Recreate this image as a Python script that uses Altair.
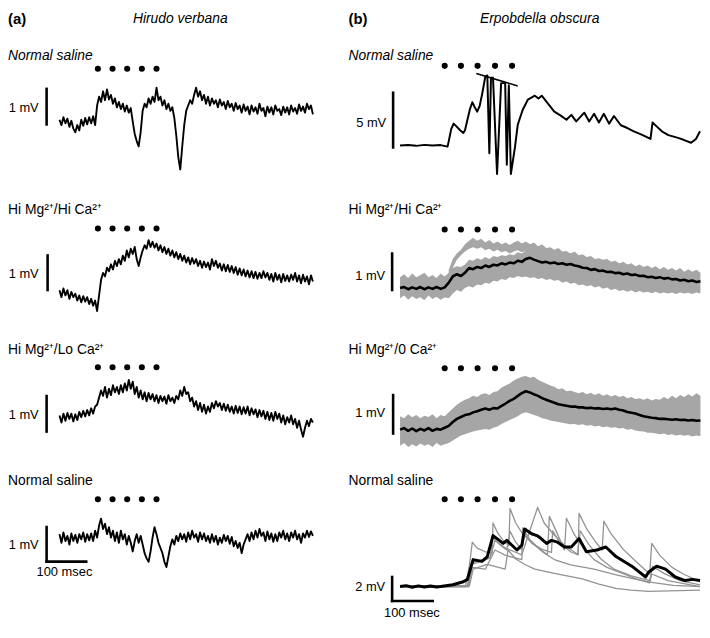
import altair as alt
import pandas as pd

# ---------------- data ----------------
# (a) Hirudo verbana, single sweeps sampled every 5 ms, mV relative to baseline
LEFT_DT = 5
hv_normal = [
    0.05, -0.1, 0.12, -0.05, 0.08, -0.15, 0.02, -0.2, -0.3, -0.1,
    -0.25, 0.05, -0.12, 0.1, -0.08, 0.12, -0.05, 0.15, -0.1, 0.45,
    0.7, 0.55, 0.85, 0.6, 0.9, 0.62, 0.75, 0.5, 0.65, 0.4,
    0.55, 0.35, 0.5, 0.28, 0.45, 0.25, 0.38, 0.0, -0.35, -0.55,
    -0.7, -0.3, 0.3, 0.5, 0.4, 0.65, 0.5, 0.7, 0.55, 0.95,
    0.6, 0.7, 0.45, 0.6, 0.35, 0.5, 0.3, 0.4, 0.1, -0.4,
    -1.0, -1.35, -0.7, -0.1, 0.3, 0.45, 0.6, 0.5, 0.75, 0.95,
    0.7, 0.85, 0.6, 0.75, 0.5, 0.7, 0.45, 0.65, 0.5, 0.6,
    0.4, 0.62, 0.45, 0.55, 0.35, 0.58, 0.4, 0.5, 0.3, 0.52,
    0.35, 0.45, 0.25, 0.48, 0.3, 0.42, 0.2, 0.45, 0.28, 0.4,
    0.22, 0.5, 0.3, 0.38, 0.15, 0.42, 0.25, 0.4, 0.2, 0.45,
    0.3, 0.35, 0.18, 0.42, 0.25, 0.4, 0.2, 0.45, 0.28, 0.38,
    0.22, 0.48, 0.3, 0.42, 0.25, 0.5, 0.35, 0.45, 0.2,
]
hv_himg_hica = [
    0.05, -0.15, 0.1, -0.1, 0.05, -0.2, 0.0, -0.15, -0.05, -0.25,
    -0.1, -0.3, -0.12, -0.28, -0.15, -0.35, -0.2, -0.4, -0.25, -0.55,
    -0.1, 0.35, 0.55, 0.45, 0.7, 0.6, 0.8, 0.65, 0.9, 0.75,
    0.95, 0.8, 1.05, 0.9, 1.2, 1.0, 1.25, 1.1, 1.3, 0.95,
    0.75, 1.0, 1.2, 1.35, 1.25, 1.5, 1.3, 1.45, 1.28, 1.4,
    1.2, 1.35, 1.15, 1.3, 1.1, 1.25, 1.05, 1.2, 1.0, 1.15,
    0.95, 1.1, 0.9, 1.05, 0.85, 1.0, 0.8, 0.98, 0.82, 0.95,
    0.75, 0.9, 0.7, 0.88, 0.72, 0.85, 0.65, 0.95, 0.75, 0.9,
    0.7, 0.82, 0.62, 0.8, 0.6, 0.78, 0.58, 0.75, 0.55, 0.72,
    0.5, 0.68, 0.48, 0.65, 0.45, 0.62, 0.42, 0.6, 0.4, 0.58,
    0.38, 0.55, 0.4, 0.6, 0.42, 0.55, 0.35, 0.52, 0.3, 0.55,
    0.35, 0.5, 0.28, 0.52, 0.32, 0.48, 0.3, 0.5, 0.35, 0.55,
    0.3, 0.48, 0.25, 0.5, 0.3, 0.45, 0.22, 0.48, 0.3,
]
hv_himg_loca = [
    0.05, -0.15, 0.1, -0.1, 0.12, -0.05, 0.1, -0.12, 0.08, -0.08,
    0.15, 0.0, 0.18, 0.02, 0.2, 0.05, 0.25, 0.1, 0.3, 0.35,
    0.55, 0.75, 0.6, 0.85, 0.55, 0.8, 0.62, 0.9, 0.7, 0.85,
    0.65, 0.9, 0.7, 0.95, 0.75, 1.05, 0.8, 1.0, 0.65, 0.85,
    0.55, 0.75, 0.5, 0.7, 0.45, 0.68, 0.5, 0.65, 0.45, 0.62,
    0.4, 0.6, 0.45, 0.58, 0.38, 0.62, 0.45, 0.55, 0.4, 0.6,
    0.5, 0.75, 0.6, 0.85, 0.65, 0.7, 0.45, 0.55, 0.3, 0.45,
    0.2, 0.4, 0.15, 0.35, 0.1, 0.3, 0.15, 0.4, 0.25, 0.45,
    0.3, 0.4, 0.2, 0.38, 0.18, 0.35, 0.15, 0.3, 0.1, 0.32,
    0.12, 0.3, 0.08, 0.28, 0.1, 0.3, 0.05, 0.25, 0.08, 0.22,
    0.0, 0.2, 0.02, 0.18, -0.05, 0.15, -0.08, 0.12, -0.1, 0.15,
    -0.05, 0.1, -0.15, 0.05, -0.2, 0.0, -0.15, 0.05, -0.2, -0.05,
    -0.3, -0.1, -0.35, -0.55, -0.3, -0.1, -0.25, -0.05, -0.15,
]
hv_normal_wash = [
    0.1, -0.15, 0.15, -0.1, 0.05, -0.2, 0.12, -0.1, 0.08, -0.15,
    0.1, -0.05, 0.15, -0.12, 0.1, -0.08, 0.12, -0.1, 0.2, 0.0,
    0.35, 0.55, 0.25, 0.4, 0.1, 0.3, 0.0, 0.2, -0.1, 0.15,
    -0.15, 0.2, -0.05, 0.1, -0.2, 0.05, -0.15, -0.4, -0.1, 0.1,
    -0.15, 0.05, -0.2, -0.45, -0.6, -0.7, -0.4, 0.0, 0.3, 0.1,
    -0.15, -0.3, -0.45, -0.7, -0.85, -0.55, -0.25, -0.05, -0.2, 0.05,
    -0.1, 0.12, -0.05, 0.1, -0.12, 0.15, -0.05, 0.2, 0.0, 0.1,
    -0.12, 0.15, -0.05, 0.12, -0.1, 0.05, -0.15, 0.1, -0.12, 0.05,
    -0.2, 0.0, -0.15, 0.08, -0.1, 0.05, -0.18, 0.02, -0.25, -0.1,
    -0.3, -0.15, -0.45, -0.2, -0.05, 0.1, -0.1, 0.15, -0.05, 0.2,
    0.0, 0.25, 0.05, 0.15, -0.1, 0.18, -0.05, 0.12, -0.12, 0.1,
    -0.1, 0.15, 0.0, 0.2, -0.05, 0.12, -0.1, 0.15, 0.0, 0.2,
    -0.05, 0.1, -0.15, 0.12, 0.0, 0.2, 0.02, 0.18, 0.05,
]
hv_stim_ms = [97, 134, 171, 208, 245]

# (b) Erpobdella obscura
eo_normal_t = [0, 20, 40, 60, 80, 100, 117, 120, 126, 132, 139, 148, 156, 160, 166, 172, 178, 184, 190, 196, 202,
               210, 215, 220, 224, 229, 239, 249, 259, 263, 268, 273, 283, 290, 302, 315,
               332, 341, 349, 365, 380, 395, 410, 422, 434, 454, 466, 478, 490, 502, 515, 527, 544,
               560, 576, 595, 612, 617, 622, 632, 645, 661, 685, 700, 717, 729, 739]
eo_normal_v = [0.0, 0.05, -0.03, 0.06, 0.0, 0.04, -0.1, 0.4, 1.5, 2.0, 1.75, 1.4, 1.15, 1.4, 2.35, 3.3, 3.95, 3.5, 3.1, 3.6, 4.65,
               6.3, 6.4, -0.7, 6.2, 6.2, -2.6, 5.7, 5.7, -1.75, 5.5, -2.6, -0.2, 1.9, 3.25, 4.2,
               4.55, 4.3, 4.55, 3.8, 3.1, 2.75, 2.35, 2.8, 2.2, 3.0, 2.2, 2.9, 2.1, 2.9, 2.0, 2.7, 1.85,
               1.6, 1.3, 1.0, 0.7, 0.6, 2.1, 1.75, 1.3, 0.95, 0.7, 0.5, 0.25, 0.6, 1.3]
eo_spike_line_t = [188, 290]
eo_spike_line_v = [6.58, 5.44]

RIGHT_DT = 10
eo_hica_mean = [0.0, 0.03, -0.03, 0.02, -0.02, 0.03, -0.03, 0.02, -0.02, 0.03, -0.02, 0.02,
                0.15, 0.32, 0.38, 0.33, 0.42, 0.55, 0.52, 0.58, 0.55, 0.62,
                0.58, 0.64, 0.62, 0.68, 0.65, 0.7, 0.68, 0.75, 0.72, 0.8,
                0.83, 0.78, 0.74, 0.7, 0.72, 0.68, 0.7, 0.66, 0.68, 0.64,
                0.66, 0.62, 0.6, 0.56, 0.55, 0.5, 0.52, 0.47, 0.48, 0.44,
                0.45, 0.41, 0.42, 0.38, 0.4, 0.36, 0.37, 0.33, 0.34, 0.3,
                0.31, 0.28, 0.3, 0.26, 0.28, 0.24, 0.25, 0.21, 0.23, 0.19,
                0.21, 0.17, 0.19]
# bulk of the individual sweeps (lower / upper edge)
eo_hica_hi = [0.3, 0.38, 0.28, 0.4, 0.3, 0.35, 0.42, 0.3, 0.36, 0.28, 0.4, 0.32,
              0.42, 0.55, 0.6, 0.58, 0.65, 0.78, 0.75, 0.82, 0.78, 0.85,
              0.8, 0.88, 0.85, 0.9, 0.88, 0.93, 0.9, 0.98, 0.95, 1.04,
              1.08, 1.02, 0.98, 0.95, 0.97, 0.93, 0.96, 0.92, 0.95, 0.92,
              0.95, 0.92, 0.9, 0.92, 0.85, 0.88, 0.8, 0.82, 0.78, 0.8,
              0.72, 0.75, 0.68, 0.72, 0.65, 0.68, 0.6, 0.65, 0.58, 0.62,
              0.55, 0.6, 0.52, 0.58, 0.5, 0.55, 0.48, 0.55, 0.45, 0.52,
              0.45, 0.5, 0.42]
eo_hica_lo = [-0.28, -0.2, -0.32, -0.22, -0.3, -0.25, -0.33, -0.2, -0.3, -0.24, -0.32, -0.26,
              -0.28, -0.15, -0.05, -0.1, 0.0, 0.05, 0.02, 0.1, 0.08, 0.15,
              0.12, 0.2, 0.18, 0.25, 0.22, 0.3, 0.28, 0.33, 0.3, 0.32,
              0.28, 0.3, 0.25, 0.28, 0.22, 0.25, 0.2, 0.22, 0.15, 0.18,
              0.12, 0.15, 0.08, 0.1, 0.05, 0.08, 0.02, 0.05, -0.02, 0.02,
              -0.05, -0.02, -0.08, -0.05, -0.1, -0.06, -0.12, -0.08, -0.12, -0.1,
              -0.14, -0.1, -0.15, -0.12, -0.15, -0.12, -0.16, -0.12, -0.15, -0.13,
              -0.16, -0.12, -0.15]
# the two sweeps that ride higher, from 120 ms to 450 ms
eo_hica_top_t0 = 120
eo_hica_top_lo = [0.3, 0.55, 0.78, 0.9, 1.0, 1.08, 1.12, 1.08, 1.12, 1.04,
                  1.08, 1.0, 1.05, 0.98, 1.02, 0.95, 1.0, 1.04, 0.98, 1.03,
                  0.95, 0.98, 0.9, 0.93, 0.87, 0.87, 0.82, 0.84, 0.78, 0.77,
                  0.72, 0.74, 0.68, 0.66]
eo_hica_top_hi = [0.5, 0.8, 0.95, 1.05, 1.2, 1.3, 1.38, 1.3, 1.35, 1.25,
                  1.32, 1.22, 1.28, 1.2, 1.25, 1.18, 1.25, 1.3, 1.22, 1.28,
                  1.2, 1.25, 1.15, 1.2, 1.1, 1.12, 1.05, 1.1, 1.0, 1.02,
                  0.95, 1.0, 0.9, 0.92]
eo_zeroca_mean = [0.0, 0.04, -0.03, 0.03, -0.04, 0.02, -0.02, 0.04, -0.03, 0.02, 0.0, 0.05,
                  0.1, 0.2, 0.28, 0.33, 0.38, 0.4, 0.45, 0.48, 0.52, 0.55,
                  0.52, 0.56, 0.55, 0.62, 0.68, 0.75, 0.8, 0.88, 0.95, 1.0,
                  0.97, 0.92, 0.88, 0.82, 0.78, 0.74, 0.7, 0.66, 0.64, 0.62,
                  0.6, 0.6, 0.58, 0.58, 0.56, 0.57, 0.55, 0.56, 0.54, 0.55,
                  0.53, 0.55, 0.52, 0.5, 0.46, 0.44, 0.42, 0.38, 0.35, 0.33,
                  0.31, 0.3, 0.28, 0.28, 0.27, 0.26, 0.27, 0.25, 0.26, 0.24,
                  0.25, 0.23, 0.24]
eo_zeroca_hi = [0.35, 0.3, 0.4, 0.32, 0.38, 0.3, 0.36, 0.33, 0.4, 0.3, 0.38, 0.35,
                0.45, 0.55, 0.65, 0.72, 0.78, 0.82, 0.88, 0.85, 0.92, 0.95,
                0.9, 0.98, 1.0, 1.1, 1.15, 1.2, 1.28, 1.33, 1.38, 1.4,
                1.35, 1.38, 1.3, 1.25, 1.2, 1.15, 1.12, 1.05, 1.08, 1.0,
                1.02, 0.98, 0.95, 0.98, 0.92, 0.96, 0.9, 0.95, 0.88, 0.92,
                0.86, 0.9, 0.85, 0.88, 0.82, 0.85, 0.8, 0.82, 0.78, 0.82,
                0.76, 0.8, 0.78, 0.85, 0.8, 0.88, 0.82, 0.9, 0.85, 0.92,
                0.86, 0.95, 0.88]
eo_zeroca_lo = [-0.42, -0.35, -0.45, -0.38, -0.44, -0.36, -0.42, -0.38, -0.45, -0.35, -0.42, -0.38,
                -0.35, -0.28, -0.22, -0.15, -0.12, -0.08, -0.05, -0.02, 0.0, 0.02,
                0.0, 0.05, 0.08, 0.15, 0.2, 0.25, 0.3, 0.35, 0.42, 0.45,
                0.42, 0.38, 0.35, 0.3, 0.28, 0.24, 0.22, 0.2, 0.18, 0.16,
                0.14, 0.15, 0.12, 0.14, 0.1, 0.12, 0.08, 0.1, 0.06, 0.08,
                0.05, 0.06, 0.03, 0.04, 0.0, 0.02, -0.02, -0.04, -0.05, -0.08,
                -0.08, -0.1, -0.12, -0.1, -0.14, -0.12, -0.15, -0.13, -0.16, -0.14,
                -0.18, -0.15, -0.17]

eo_wash_mean_t = [0, 15, 30, 45, 60, 75, 90, 100, 130, 156, 166, 180, 202, 215, 229,
                  239, 254, 263, 288, 300, 307, 324, 337, 344, 361, 373, 388, 405, 422, 441,
                  459, 485, 507, 532, 571, 605, 612, 632, 654, 678, 702, 720, 739]
eo_wash_mean_v = [0.0, 0.08, -0.05, 0.06, -0.04, 0.05, -0.03, 0.0, 0.15, 0.4, 0.6, 2.25, 2.1, 2.5, 4.25,
                  4.0, 3.6, 3.85, 3.05, 3.45, 4.8, 4.4, 4.25, 4.1, 3.6, 3.85, 3.7, 3.3, 3.3, 4.0,
                  2.9, 3.05, 3.3, 2.5, 1.7, 0.8, 1.2, 1.7, 1.45, 0.8, 0.5, 0.6, 0.5]
eo_wash_g1_t = [0, 161, 171, 178, 190, 210, 227, 229, 240, 255, 268, 271, 285, 300, 320, 332,
                355, 380, 420, 478, 530, 576, 620, 673, 739]
eo_wash_g1_v = [0.0, 0.0, 1.8, 3.7, 3.2, 2.9, 2.8, 5.3, 4.5, 3.8, 3.4, 6.5, 5.3, 4.5, 3.8, 3.45,
                2.8, 2.25, 1.8, 1.45, 1.0, 0.65, 0.35, 0.1, 0.0]
eo_wash_g2_t = [0, 166, 176, 200, 222, 234, 260, 300, 339, 355, 380, 405, 439, 441, 460, 480,
                498, 502, 520, 550, 576, 615, 620, 640, 670, 698, 739]
eo_wash_g2_v = [0.05, 0.1, 1.85, 2.1, 2.4, 3.85, 3.2, 2.65, 6.6, 5.3, 4.3, 3.45, 2.65, 6.1, 4.8, 3.8,
                3.05, 5.45, 4.4, 3.1, 2.25, 1.05, 3.6, 2.6, 1.6, 1.05, 0.4]
eo_wash_g3_t = [0, 168, 178, 210, 234, 260, 300, 302, 320, 345, 363, 368, 385, 405, 410, 430,
                455, 478, 510, 551, 585, 615, 620, 660, 739]
eo_wash_g3_v = [-0.05, 0.0, 1.6, 1.45, 3.05, 2.6, 2.25, 4.9, 3.9, 3.1, 2.65, 5.85, 4.6, 3.05, 5.7, 4.3,
                3.1, 2.25, 1.6, 1.05, 0.6, 0.3, 1.05, 0.5, 0.0]
eo_wash_g4_t = [0, 171, 180, 215, 259, 266, 285, 310, 332, 380, 449, 490, 532, 570, 612, 739]
eo_wash_g4_v = [0.0, 0.05, 1.45, 1.85, 1.45, 3.05, 2.3, 1.8, 1.45, 1.1, 0.65, 0.2, -0.15, -0.3, -0.4, -0.3]
eo_wash_g5_t = [0, 168, 176, 222, 229, 245, 263, 271, 285, 300, 307, 325, 350, 373, 376, 395,
                420, 437, 444, 465, 495, 527, 570, 615, 622, 650, 690, 739]
eo_wash_g5_v = [0.0, 0.0, 2.0, 2.4, 4.1, 3.5, 3.05, 4.6, 3.7, 3.05, 4.4, 3.6, 3.1, 2.85, 4.65, 3.6,
                2.9, 2.65, 4.65, 3.5, 2.3, 1.45, 0.9, 0.5, 1.7, 1.1, 0.5, 0.15]
eo_stim_ms = [110, 150, 191, 234, 276]

# ---------------- layout (pixels of the reference figure) ----------------
FONT = "Liberation Sans"
S = 0.97                        # vertical fit factor
BANDS = [5, 187, 333, 480, 640]  # row bands, reference px
COLS = {
    "a": dict(ref_x0=3, t0_ref=55, px_ms=0.40, width=344),
    "b": dict(ref_x0=352, t0_ref=404, px_ms=0.41, width=356),
}
BLACK = "#000000"
GREY = "#939393"
BAND_GREY = "#a6a6a6"


def series(dt, values, t0=0):
    return pd.DataFrame({"t": [t0 + i * dt for i in range(len(values))], "v": values})


def build_panel(col, row, spec):
    c = COLS[col]
    top, bot = BANDS[row], BANDS[row + 1]
    height = (bot - top) * S
    y0, ppm = spec["y0"], spec["ppm"]
    off = c["t0_ref"] - c["ref_x0"]
    xdom = [-off / c["px_ms"], (c["width"] - off) / c["px_ms"]]
    ydom = [-(bot - y0) / ppm, (y0 - top) / ppm]
    xs = alt.Scale(domain=xdom, nice=False, zero=False)
    ys = alt.Scale(domain=ydom, nice=False, zero=False)

    def X(f):
        return alt.X(f, type="quantitative", scale=xs, axis=None)

    def Y(f):
        return alt.Y(f, type="quantitative", scale=ys, axis=None)

    def px(rx):
        return rx - c["ref_x0"]

    def py(ry):
        return (ry - top) * S

    def mv(ry):
        return (y0 - ry) / ppm

    def ms(rx):
        return (rx - c["t0_ref"]) / c["px_ms"]

    def text(s, rx, ry, align="left", size=14, style="normal", weight="normal", baseline="middle"):
        return alt.Chart(pd.DataFrame({"s": [s]})).mark_text(
            align=align, baseline=baseline, font=FONT, fontSize=size,
            fontStyle=style, fontWeight=weight, color=BLACK,
        ).encode(x=alt.value(px(rx)), y=alt.value(py(ry)), text="s:N")

    layers = []
    for tr in spec["traces"]:
        kind = tr[0]
        if kind == "band":
            _, t0, dt, lo, hi, color = tr
            df = pd.DataFrame({"t": [t0 + i * dt for i in range(len(lo))], "lo": lo, "hi": hi})
            layers.append(alt.Chart(df).mark_area(color=color, opacity=1, interpolate="linear").encode(
                x=X("t"), y=Y("lo"), y2="hi"))
        elif kind == "line":
            _, df, color, width = tr
            df = df.reset_index(drop=True).assign(i=lambda d: d.index)
            layers.append(alt.Chart(df).mark_line(color=color, strokeWidth=width, strokeJoin="round").encode(
                x=X("t"), y=Y("v"), order="i:Q"))
        elif kind == "multi":
            _, frames, color, width = tr
            dfs = []
            for name, (tt, vv) in frames.items():
                dfs.append(pd.DataFrame({"t": tt, "v": vv, "trace": name, "i": range(len(tt))}))
            df = pd.concat(dfs, ignore_index=True)
            layers.append(alt.Chart(df).mark_line(color=color, strokeWidth=width, strokeJoin="round").encode(
                x=X("t"), y=Y("v"), detail="trace:N", order="i:Q"))
        elif kind == "segment":
            _, tt, vv, width = tr
            df = pd.DataFrame({"x": [tt[0]], "x2": [tt[1]], "y": [vv[0]], "y2": [vv[1]]})
            layers.append(alt.Chart(df).mark_rule(color=BLACK, strokeWidth=width).encode(
                x=X("x"), x2="x2", y=Y("y"), y2="y2"))

    # stimulus dots
    dots = pd.DataFrame({"t": spec["stim"], "v": [mv(spec["dot_y"])] * len(spec["stim"])})
    layers.append(alt.Chart(dots).mark_circle(size=38, color=BLACK, opacity=1).encode(x=X("t"), y=Y("v")))

    # scale bars
    b = spec["bar"]
    bx = ms(b["x"])
    bb = mv(b["bottom"])
    segs = [dict(x=bx, x2=bx, y=bb, y2=bb + b["mv"])]
    if b.get("ms"):
        segs.append(dict(x=bx, x2=bx + b["ms"], y=bb, y2=bb))
    layers.append(alt.Chart(pd.DataFrame(segs)).mark_rule(color=BLACK, strokeWidth=2.6, strokeCap="square").encode(
        x=X("x"), x2="x2", y=Y("y"), y2="y2"))
    layers.append(text(b["label"], b["label_x"], b["label_y"], align="right", size=13))
    if b.get("ms"):
        layers.append(text(b["ms_label"], b["ms_label_x"], b["ms_label_y"], align="center", size=13))

    # condition label
    layers.append(text(spec["label"], c["ref_x0"], spec["label_y"], size=14,
                       style="italic" if spec.get("italic") else "normal"))
    # header
    if "header" in spec:
        h = spec["header"]
        layers.append(text(h[0], c["ref_x0"], 13, size=15, weight="bold"))
        layers.append(text(h[1], h[2], 13, align="center", size=14, style="italic"))

    return alt.layer(*layers).properties(width=c["width"], height=height)


HI_HI = "Hi Mg\u00b2\u207a/Hi Ca\u00b2\u207a"
HI_LO = "Hi Mg\u00b2\u207a/Lo Ca\u00b2\u207a"
HI_ZERO = "Hi Mg\u00b2\u207a/0 Ca\u00b2\u207a"
NOISY_W = 1.9

left_specs = [
    dict(y0=120, ppm=37, label="Normal saline", italic=True, label_y=52, dot_y=65, stim=hv_stim_ms,
         header=("(a)", "Hirudo verbana", 177),
         bar=dict(x=42, bottom=123, mv=1, label="1 mV", label_x=34, label_y=106),
         traces=[("line", series(LEFT_DT, hv_normal), BLACK, NOISY_W)]),
    dict(y0=297, ppm=36, label=HI_HI, label_y=212, dot_y=231, stim=hv_stim_ms,
         bar=dict(x=43, bottom=295, mv=1, label="1 mV", label_x=34, label_y=278),
         traces=[("line", series(LEFT_DT, hv_himg_hica), BLACK, NOISY_W)]),
    dict(y0=427, ppm=37, label=HI_LO, label_y=357, dot_y=375, stim=hv_stim_ms,
         bar=dict(x=42, bottom=442, mv=1, label="1 mV", label_x=34, label_y=425),
         traces=[("line", series(LEFT_DT, hv_himg_loca), BLACK, NOISY_W)]),
    dict(y0=552, ppm=36, label="Normal saline", label_y=493, dot_y=512, stim=hv_stim_ms,
         bar=dict(x=42, bottom=577, mv=1, label="1 mV", label_x=34, label_y=560,
                  ms=100, ms_label="100 msec", ms_label_x=60, ms_label_y=588),
         traces=[("line", series(LEFT_DT, hv_normal_wash), BLACK, NOISY_W)]),
]

right_specs = [
    dict(y0=145, ppm=11.4, label="Normal saline", italic=True, label_y=52, dot_y=62, stim=eo_stim_ms,
         header=("(b)", "Erpobdella obscura", 545),
         bar=dict(x=397, bottom=147, mv=5, label="5 mV", label_x=390, label_y=122),
         traces=[("line", pd.DataFrame({"t": eo_normal_t, "v": eo_normal_v}), BLACK, 2.0),
                 ("segment", eo_spike_line_t, eo_spike_line_v, 1.5)]),
    dict(y0=293, ppm=38, label=HI_HI, label_y=212, dot_y=232, stim=eo_stim_ms,
         bar=dict(x=396, bottom=295, mv=1, label="1 mV", label_x=389, label_y=280),
         traces=[("band", 0, RIGHT_DT, eo_hica_lo, eo_hica_hi, BAND_GREY),
                 ("band", eo_hica_top_t0, RIGHT_DT, eo_hica_top_lo, eo_hica_top_hi, BAND_GREY),
                 ("line", series(RIGHT_DT, eo_hica_mean), BLACK, 2.6)]),
    dict(y0=440, ppm=40, label=HI_ZERO, label_y=357, dot_y=376, stim=eo_stim_ms,
         bar=dict(x=397, bottom=444, mv=1, label="1 mV", label_x=389, label_y=423),
         traces=[("band", 0, RIGHT_DT, eo_zeroca_lo, eo_zeroca_hi, BAND_GREY),
                 ("line", series(RIGHT_DT, eo_zeroca_mean), BLACK, 2.6)]),
    dict(y0=603, ppm=12.5, label="Normal saline", label_y=493, dot_y=512, stim=eo_stim_ms,
         bar=dict(x=396, bottom=618, mv=2, label="2 mV", label_x=389, label_y=603,
                  ms=100, ms_label="100 msec", ms_label_x=416, ms_label_y=631),
         traces=[("multi", {"1": (eo_wash_g1_t, eo_wash_g1_v), "2": (eo_wash_g2_t, eo_wash_g2_v),
                            "3": (eo_wash_g3_t, eo_wash_g3_v), "4": (eo_wash_g4_t, eo_wash_g4_v),
                            "5": (eo_wash_g5_t, eo_wash_g5_v)}, GREY, 1.3),
                 ("line", pd.DataFrame({"t": eo_wash_mean_t, "v": eo_wash_mean_v}), BLACK, 3.0)]),
]

left = alt.vconcat(*[build_panel("a", i, s) for i, s in enumerate(left_specs)], spacing=0)
right = alt.vconcat(*[build_panel("b", i, s) for i, s in enumerate(right_specs)], spacing=0)

chart = alt.hconcat(left, right, spacing=0).properties(
    padding=0, background="white"
).configure_view(stroke=None).configure_concat(spacing=0)

chart.save("out.html", embed_options={"renderer": "svg", "actions": False})
